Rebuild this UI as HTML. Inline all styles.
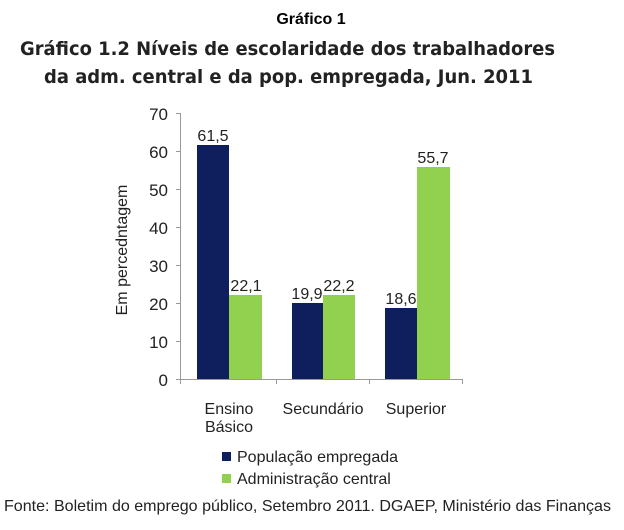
<!DOCTYPE html><html><head><style>
body{margin:0;background:#fff;width:624px;height:525px;overflow:hidden}
</style></head><body>
<svg width="624" height="525" xmlns="http://www.w3.org/2000/svg" font-family="Liberation Sans, Arial, sans-serif">
<text x="311" y="24" font-size="16" font-weight="bold" text-anchor="middle">Gráfico 1</text>
<text x="20" y="55" font-size="19" font-weight="bold" font-family="DejaVu Sans, sans-serif" fill="#222" textLength="535" lengthAdjust="spacingAndGlyphs">Gráfico 1.2 Níveis de escolaridade dos trabalhadores</text>
<text x="44" y="83" font-size="19" font-weight="bold" font-family="DejaVu Sans, sans-serif" fill="#222" textLength="489" lengthAdjust="spacingAndGlyphs">da adm. central e da pop. empregada, Jun. 2011</text>
<g stroke="#999" stroke-width="1">
<line x1="180.5" y1="113" x2="180.5" y2="380"/>
<line x1="180" y1="379.5" x2="463" y2="379.5"/>
<line x1="176" y1="113.5" x2="180" y2="113.5"/><line x1="176" y1="151.5" x2="180" y2="151.5"/><line x1="176" y1="189.5" x2="180" y2="189.5"/><line x1="176" y1="227.5" x2="180" y2="227.5"/><line x1="176" y1="265.5" x2="180" y2="265.5"/><line x1="176" y1="303.5" x2="180" y2="303.5"/><line x1="176" y1="341.5" x2="180" y2="341.5"/><line x1="176" y1="379.5" x2="180" y2="379.5"/>
<line x1="276.5" y1="380" x2="276.5" y2="384"/><line x1="369.5" y1="380" x2="369.5" y2="384"/><line x1="462.5" y1="380" x2="462.5" y2="384"/><line x1="180.5" y1="380" x2="180.5" y2="384"/>
</g>
<g font-size="17" text-anchor="end" fill="#222">
<text x="168" y="120">70</text><text x="168" y="158">60</text><text x="168" y="196">50</text><text x="168" y="234">40</text><text x="168" y="272">30</text><text x="168" y="310">20</text><text x="168" y="348">10</text><text x="168" y="386">0</text>
</g>
<text transform="translate(127,250) rotate(-90)" font-size="16" text-anchor="middle" fill="#222">Em percedntagem</text>
<g fill="#0f1f5e">
<rect x="197" y="145" width="32" height="234"/>
<rect x="292" y="303" width="31" height="76"/>
<rect x="385" y="308" width="32" height="71"/>
</g>
<g fill="#92d050">
<rect x="229" y="295" width="33" height="84"/>
<rect x="323" y="295" width="32" height="84"/>
<rect x="417" y="167" width="33" height="212"/>
</g>
<g font-size="16" text-anchor="middle" fill="#222">
<text x="213" y="141">61,5</text><text x="246" y="291">22,1</text>
<text x="307" y="299">19,9</text><text x="339" y="291">22,2</text>
<text x="401" y="304">18,6</text><text x="433" y="163">55,7</text>
<text x="229" y="414">Ensino</text><text x="229" y="432">Básico</text>
<text x="323" y="414">Secundário</text><text x="416" y="414">Superior</text>
</g>
<rect x="222" y="452" width="9" height="9" fill="#0f1f5e"/>
<rect x="222" y="474" width="9" height="9" fill="#92d050"/>
<text x="237" y="462" font-size="16" fill="#222">População empregada</text>
<text x="237" y="484" font-size="16" fill="#222">Administração central</text>
<text x="4" y="511" font-size="16" fill="#222" textLength="607" lengthAdjust="spacingAndGlyphs">Fonte: Boletim do emprego público, Setembro 2011. DGAEP, Ministério das Finanças</text>
</svg>
</body></html>
